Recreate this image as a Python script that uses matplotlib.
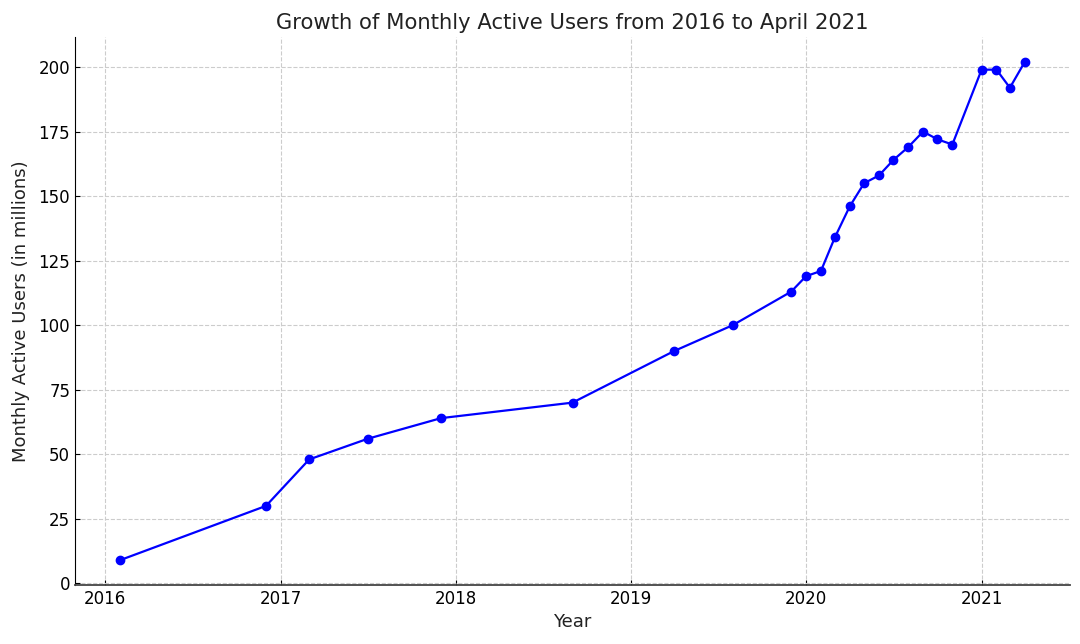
import matplotlib
matplotlib.use('Agg')
import matplotlib.pyplot as plt
import pandas as pd

# monthly active users (millions)
dates = ['2016-02-01', '2016-12-01', '2017-03-01', '2017-07-01', '2017-12-01',
         '2018-09-01', '2019-04-01', '2019-08-01', '2019-12-01', '2020-01-01',
         '2020-02-01', '2020-03-01', '2020-04-01', '2020-05-01', '2020-06-01',
         '2020-07-01', '2020-08-01', '2020-09-01', '2020-10-01', '2020-11-01',
         '2021-01-01', '2021-02-01', '2021-03-01', '2021-04-01']
users = [9, 30, 48, 56, 64, 70, 90, 100, 113, 119,
         121, 134, 146, 155, 158, 164, 169, 175, 172, 170,
         199, 199, 192, 202]

x = pd.to_datetime(dates)

fig = plt.figure(figsize=(10.8, 6.44), dpi=100)
ax = fig.add_axes([75/1080, 1-585/644, 995/1080, 548/644])

ax.plot(x, users, marker='o', color='blue', linewidth=1.6, markersize=6)

ax.set_title('Growth of Monthly Active Users from 2016 to April 2021', fontsize=15.2, color='#222222')
ax.set_xlabel('Year', fontsize=13, color='#222222')
ax.set_ylabel('Monthly Active Users (in millions)', fontsize=13, color='#222222', labelpad=6)

ax.grid(True, linestyle='--', color='#cccccc', linewidth=0.8)
ax.tick_params(direction='in', labelsize=12)
ax.spines['top'].set_visible(False)
ax.spines['right'].set_visible(False)
ax.spines['bottom'].set_linewidth(1.3)
ax.spines['bottom'].set_color('#444444')

fig.savefig('out.png', dpi=100)
